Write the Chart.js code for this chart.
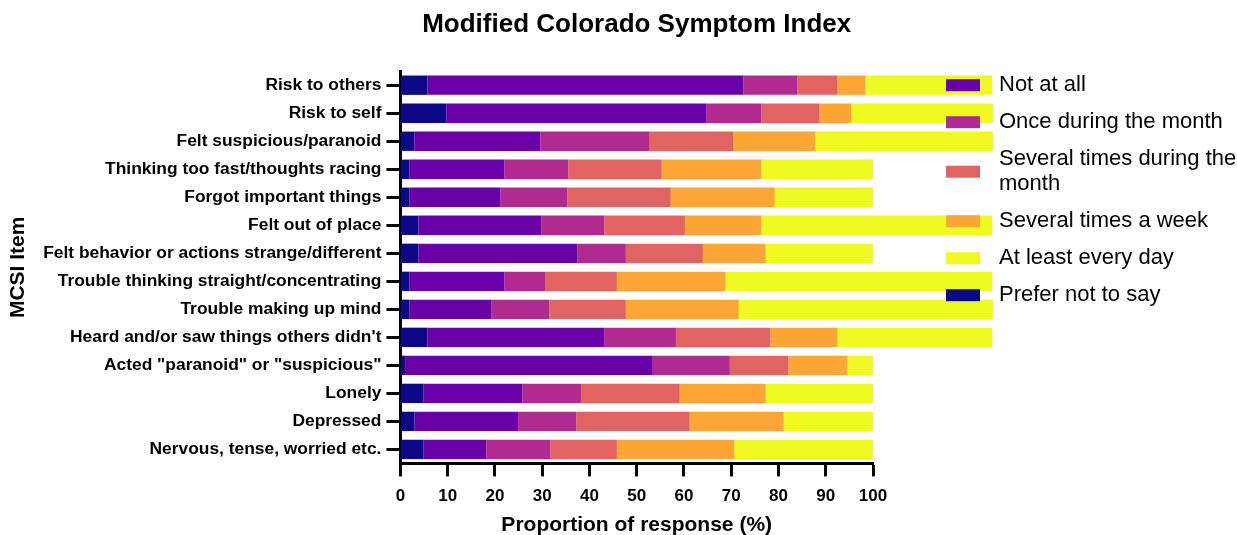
<!DOCTYPE html>
<html>
<head>
<meta charset="utf-8">
<script src="https://cdn.jsdelivr.net/npm/chart.js@4"></script>
<style>
  html, body { margin: 0; padding: 0; background: #fff; }
  #wrap { width: 1237px; height: 535px; }
</style>
</head>
<body>
<div id="wrap"><canvas id="mcsiChart"></canvas></div>
<script>
// Items, top to bottom
const items = [
  'Risk to others',
  'Risk to self',
  'Felt suspicious/paranoid',
  'Thinking too fast/thoughts racing',
  'Forgot important things',
  'Felt out of place',
  'Felt behavior or actions strange/different',
  'Trouble thinking straight/concentrating',
  'Trouble making up mind',
  "Heard and/or saw things others didn't",
  'Acted "paranoid" or "suspicious"',
  'Lonely',
  'Depressed',
  'Nervous, tense, worried etc.'
];

// Proportion of response (%) per answer, same order as items
const preferNotToSay = [5.7, 9.7, 3.0, 1.9, 1.9, 3.8, 3.8, 1.9, 1.9, 5.7, 1.0, 4.9, 3.0, 4.9];
const notAtAll       = [66.9, 55.1, 26.6, 20.1, 19.2, 26.0, 33.6, 20.1, 17.3, 37.4, 52.4, 20.9, 21.9, 13.3];
const onceMonth      = [11.4, 11.6, 23.0, 13.5, 14.2, 13.3, 10.3, 8.6, 12.3, 15.2, 16.3, 12.4, 12.3, 13.5];
const severalMonth   = [8.5, 12.3, 17.9, 19.8, 21.9, 17.1, 16.3, 15.2, 16.2, 20.0, 12.4, 20.9, 24.0, 14.1];
const severalWeek    = [5.9, 6.7, 17.3, 21.1, 22.0, 16.2, 13.3, 23.0, 23.9, 14.2, 12.5, 18.2, 19.9, 24.9];
const everyDay       = [26.8, 30.0, 37.6, 23.6, 20.8, 48.8, 22.7, 56.4, 53.8, 32.7, 5.4, 22.7, 18.9, 29.3];

const xTicks = [0, 10, 20, 30, 40, 50, 60, 70, 80, 90, 100];

const FONT = '"Liberation Sans", Arial, Helvetica, sans-serif';

// stacking order left to right
const series = [
  { label: 'Prefer not to say', data: preferNotToSay, color: '#0d0887' },
  { label: 'Not at all', data: notAtAll, color: '#6a00a8' },
  { label: 'Once during the month', data: onceMonth, color: '#b12a90' },
  { label: 'Several times during the month', data: severalMonth, color: '#e16462' },
  { label: 'Several times a week', data: severalWeek, color: '#fca636' },
  { label: 'At least every day', data: everyDay, color: '#f0f921' }
];
// legend lists "Prefer not to say" last
const legendOrder = [1, 2, 3, 4, 5, 0];

// Legend drawn after the bars, so the boxes sit on top of them
const legendOnTop = {
  id: 'legendOnTop',
  afterDatasetsDraw(chart) {
    const ctx = chart.ctx;
    const area = chart.chartArea;
    const boxX = area.right + 73;
    const textX = boxX + 53;
    const maxW = 250;
    const lineH = 25;
    let y = area.top + 14;

    ctx.save();
    ctx.font = '22px ' + FONT;
    ctx.textBaseline = 'middle';
    ctx.textAlign = 'left';

    legendOrder.forEach(i => {
      const ds = chart.data.datasets[i];
      // simple word wrap
      const words = ds.label.split(' ');
      const lines = [];
      let cur = '';
      words.forEach(w => {
        const test = cur ? cur + ' ' + w : w;
        if (cur && ctx.measureText(test).width > maxW) {
          lines.push(cur);
          cur = w;
        } else {
          cur = test;
        }
      });
      lines.push(cur);

      const mid = y + (lines.length - 1) * lineH / 2;
      ctx.fillStyle = ds.backgroundColor;
      ctx.fillRect(boxX, mid - 6, 34, 12);
      ctx.fillStyle = '#000';
      lines.forEach((t, k) => ctx.fillText(t, textX, y + k * lineH));
      y += (lines.length - 1) * lineH + 37;
    });
    ctx.restore();
  }
};

const ctx = document.getElementById('mcsiChart').getContext('2d');

new Chart(ctx, {
  type: 'bar',
  data: {
    labels: items,
    datasets: series.map(s => ({
      label: s.label,
      data: s.data,
      backgroundColor: s.color,
      borderWidth: 0,
      barPercentage: 0.69,
      categoryPercentage: 1,
      clip: false
    }))
  },
  options: {
    indexAxis: 'y',
    responsive: true,
    maintainAspectRatio: false,
    animation: false,
    layout: {
      padding: { left: 0, right: 364, top: 0, bottom: 0 }
    },
    scales: {
      x: {
        stacked: true,
        min: 0,
        max: 100,
        afterBuildTicks: axis => { axis.ticks = xTicks.map(v => ({ value: v })); },
        grid: {
          drawOnChartArea: false,
          drawTicks: true,
          tickLength: 13,
          tickWidth: 3,
          tickColor: '#000'
        },
        border: { display: true, color: '#000', width: 3 },
        ticks: {
          color: '#000',
          padding: 10,
          maxRotation: 0,
          font: { family: FONT, size: 17, weight: 'bold' }
        },
        title: {
          display: true,
          text: 'Proportion of response (%)',
          color: '#000',
          padding: { top: -4, bottom: -3 },
          font: { family: FONT, size: 21, weight: 'bold' }
        }
      },
      y: {
        stacked: true,
        grid: {
          offset: false,
          drawOnChartArea: false,
          drawTicks: true,
          tickLength: 14,
          tickWidth: 3,
          tickColor: '#000'
        },
        border: { display: true, color: '#000', width: 3 },
        ticks: {
          color: '#000',
          padding: 5,
          autoSkip: false,
          font: { family: FONT, size: 17.4, weight: 'bold' }
        },
        title: {
          display: true,
          text: 'MCSI Item',
          color: '#000',
          padding: { top: 6, bottom: 7 },
          font: { family: FONT, size: 21, weight: 'bold' }
        }
      }
    },
    plugins: {
      legend: { display: false },
      tooltip: { enabled: false },
      title: {
        display: true,
        text: 'Modified Colorado Symptom Index',
        color: '#000',
        fullSize: false,
        padding: { top: 9, bottom: 31 },
        font: { family: FONT, size: 26, weight: 'bold' }
      }
    }
  },
  plugins: [legendOnTop]
});
</script>
</body>
</html>
